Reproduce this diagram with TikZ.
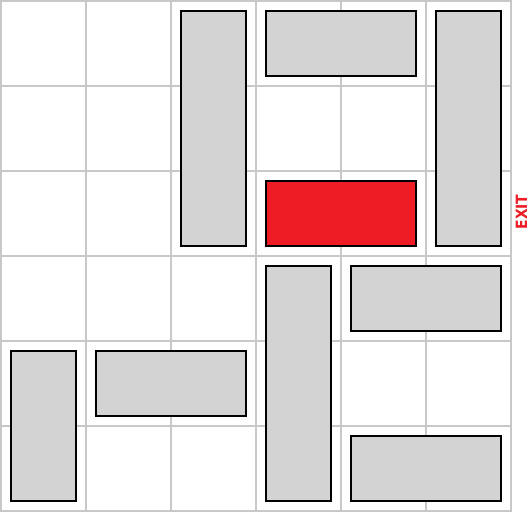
\documentclass[tikz,border=0pt]{standalone}
\usepackage{fontspec}
\setmainfont{Liberation Sans}
\newfontfamily\exitfont{DejaVu Sans Condensed}
\usepackage{xcolor}
\definecolor{gridgray}{HTML}{C8C8C8}
\definecolor{carfill}{HTML}{D3D3D3}
\definecolor{target}{HTML}{EE1C25}
\usetikzlibrary{positioning}

\begin{document}
\begin{tikzpicture}[x=1pt, y=-1pt]
  \tikzstyle{gridline}=[draw=gridgray, line width=2pt]
  \tikzstyle{car}=[rectangle, draw=black, line width=2pt, fill=carfill,
    inner sep=0pt, outer sep=0pt]
  \tikzstyle{vcar}=[car, minimum width=65pt]
  \tikzstyle{hcar}=[car, minimum height=65pt]
  \tikzstyle{exitlabel}=[font=\exitfont\fontsize{15.5}{15.5}\selectfont\bfseries,
    text=target, rotate=90, inner sep=0pt]
  \useasboundingbox (0,0) rectangle (530,512);
  % board
  \foreach \k in {0,...,6} {
    \draw[gridline] (1+85*\k,0) -- (1+85*\k,512);
    \draw[gridline] (0,1+85*\k) -- (511+1,1+85*\k);
  }
  % cars
  \node[vcar, minimum height=235pt] (v1) at (213.5,128.5) {};
  \node[hcar, minimum width=150pt] (h1) at (341,43.5) {};
  \node[vcar, minimum height=235pt] (v2) at (468.5,128.5) {};
  \node[hcar, minimum width=150pt, fill=target] (red) at (341,213.5) {};
  \node[vcar, minimum height=235pt] (v3) at (298.5,383.5) {};
  \node[hcar, minimum width=150pt] (h2) at (426,298.5) {};
  \node[vcar, minimum height=150pt] (v4) at (43.5,426) {};
  \node[hcar, minimum width=150pt] (h3) at (171,383.5) {};
  \node[hcar, minimum width=150pt] (h4) at (426,468.5) {};
  \node[exitlabel, anchor=center] (exit) at (521.5,212) {EXIT};
\end{tikzpicture}
\end{document}
